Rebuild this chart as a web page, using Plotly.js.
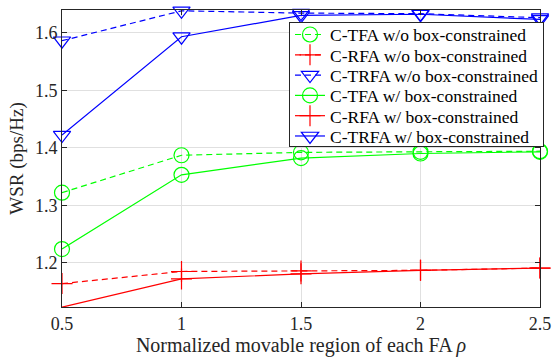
<!DOCTYPE html>
<html><head><meta charset="utf-8">
<script src="https://cdn.plot.ly/plotly-3.0.1.min.js"></script>
<style>body{margin:0;padding:0;background:#fff}#c{width:553px;height:362px}</style>
</head><body><div id="c"></div>
<script>
const rho = [0.5, 1, 1.5, 2, 2.5];
const tfaWo = [1.322, 1.387, 1.392, 1.393, 1.394];
const rfaWo = [1.164, 1.185, 1.186, 1.187, 1.191];
const trfaWo = [1.586, 1.638, 1.634, 1.633, 1.626];
const tfaW = [1.224, 1.353, 1.382, 1.390, 1.393];
const rfaW = [1.123, 1.172, 1.181, 1.187, 1.191];
const trfaW = [1.422, 1.593, 1.630, 1.632, 1.623];
const names = ["C-TFA w/o box-constrained","C-RFA w/o box-constrained","C-TRFA w/o box-constrained","C-TFA w/ box-constrained","C-RFA w/ box-constrained","C-TRFA w/ box-constrained"];
const xTicks = [0.5, 1, 1.5, 2, 2.5];
const xTickText = ["0.5","1","1.5","2","2.5"];
const yTicks = [1.2, 1.3, 1.4, 1.5, 1.6];

const GREEN = "#00ff00", RED = "#ff0000", BLUE = "#0000ff";
const FAM = "Liberation Serif";
const DASH = "6px,4px";
function tr(y, name, color, dash, symbol){
  return {x: rho, y: y, name: name, type: "scatter", mode: "lines+markers",
    line: {color: color, width: 1.2, dash: dash},
    marker: {symbol: symbol, size: 15, color: color, line: {color: color, width: 1.2}},
    cliponaxis: false};
}
const data = [
  tr(tfaWo, names[0], GREEN, DASH, "circle-open"),
  tr(rfaWo, names[1], RED, DASH, "cross-thin-open"),
  tr(trfaWo, names[2], BLUE, DASH, "triangle-down-open"),
  tr(tfaW, names[3], GREEN, "solid", "circle-open"),
  tr(rfaW, names[4], RED, "solid", "cross-thin-open"),
  tr(trfaW, names[5], BLUE, "solid", "triangle-down-open")
];
const layout = {
  width: 553, height: 362,
  margin: {l: 62, r: 12, t: 10, b: 54.5},
  paper_bgcolor: "#fff", plot_bgcolor: "#fff",
  font: {family: FAM, color: "#262626"},
  showlegend: true,
  legend: {x: (544 - 62) / 479, y: 1 - 12 / 297.5, xanchor: "right", yanchor: "top",
    bgcolor: "#fff", bordercolor: "#262626", borderwidth: 1,
    font: {family: FAM, size: 17.5, color: "#000"},
    tracegroupgap: 0, itemwidth: 30},
  xaxis: {range: [0.5, 2.5], tickvals: xTicks, ticktext: xTickText,
    showgrid: true, gridcolor: "#e0e0e0", zeroline: false,
    showline: true, linecolor: "#262626", linewidth: 1, mirror: "ticks",
    ticks: "inside", ticklen: 5, tickcolor: "#262626",
    tickfont: {family: FAM, size: 18, color: "#262626"},
    title: {text: "Normalized movable region of each FA <i>ρ</i>", font: {family: FAM, size: 20, color: "#262626"}, standoff: 4}},
  yaxis: {range: [1.1233, 1.6394], tickvals: yTicks,
    showgrid: true, gridcolor: "#e0e0e0", zeroline: false,
    showline: true, linecolor: "#262626", linewidth: 1, mirror: "ticks",
    ticks: "inside", ticklen: 5, tickcolor: "#262626",
    tickfont: {family: FAM, size: 18, color: "#262626"},
    title: {text: "WSR (bps/Hz)", font: {family: FAM, size: 19, color: "#262626"}, standoff: 6}}
};
Plotly.newPlot("c", data, layout, {displayModeBar: false, staticPlot: true}).then(function(gd){
  // tighten legend row spacing to match the reference
  const leg = gd.querySelector("g.legend");
  if (!leg) return;
  const items = Array.from(leg.querySelectorAll("g.traces"));
  const bg = leg.querySelector("rect.bg");
  if (!items.length || !bg) return;
  const parse = el => { const m = /translate\(\s*([-\d.]+)[ ,]+([-\d.]+)/.exec(el.getAttribute("transform") || ""); return m ? [parseFloat(m[1]), parseFloat(m[2])] : [0, 0]; };
  const pos = items.map(parse);
  const firstY = 12.5, step = 20.3, totalH = 124;
  items.forEach((el, i) => el.setAttribute("transform", "translate(" + pos[i][0] + "," + (firstY + i * step) + ")"));
  bg.setAttribute("height", totalH);
});
</script></body></html>
